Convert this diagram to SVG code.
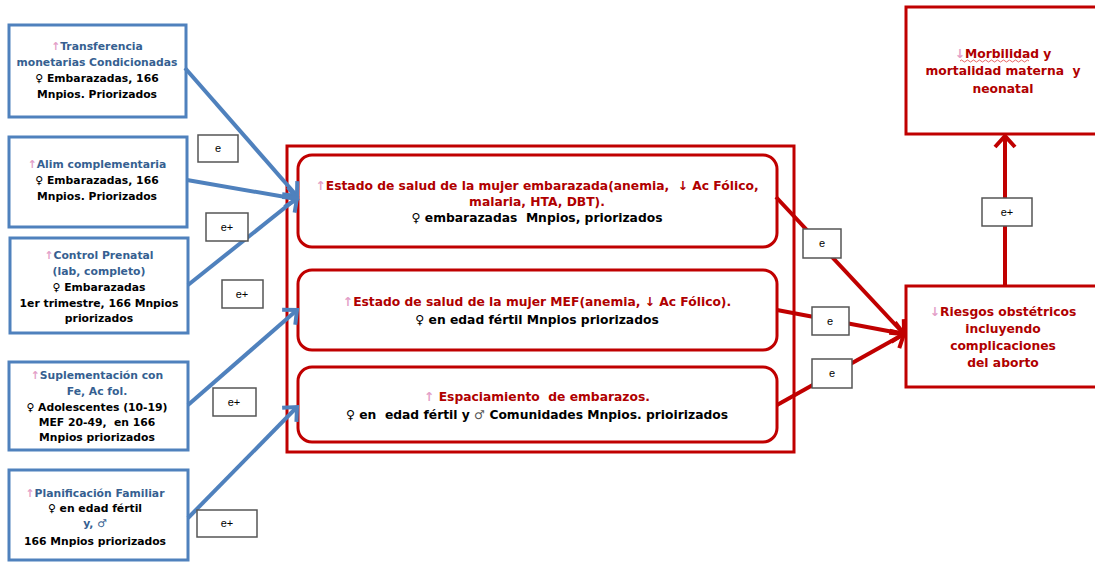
<svg xmlns="http://www.w3.org/2000/svg" width="1095" height="563" viewBox="0 0 1095 563">
<style>
.bbox{fill:#fff;stroke:#4F81BD;stroke-width:3}
.rbox{fill:#fff;stroke:#C00000;stroke-width:3}
.t{font-family:"DejaVu Sans",sans-serif;font-weight:bold;font-size:10.8px;text-anchor:middle;white-space:pre}
.tm{font-size:12.3px}
.blue{fill:#365F91}
.blk{fill:#000}
.red{fill:#B00000}
.pk{fill:#E3A0C8}
.lbl{fill:#fff;stroke:#555;stroke-width:1.5}
.lt{font-family:"Liberation Sans",sans-serif;font-size:11px;text-anchor:middle;fill:#000}
.ba{stroke:#4F81BD;stroke-width:4;fill:none;marker-end:url(#ab)}
.ra{stroke:#C00000;stroke-width:4;fill:none;marker-end:url(#ar)}
</style>
<defs>
<marker id="ab" markerUnits="userSpaceOnUse" markerWidth="26" markerHeight="26" refX="13" refY="13" orient="auto" viewBox="0 0 26 26">
<path d="M2,3 L13,13 L2,23" fill="none" stroke="#4F81BD" stroke-width="4"/>
</marker>
<marker id="ar" markerUnits="userSpaceOnUse" markerWidth="26" markerHeight="26" refX="13" refY="13" orient="auto" viewBox="0 0 26 26">
<path d="M2,3 L13,13 L2,23" fill="none" stroke="#C00000" stroke-width="4"/>
</marker>
</defs>
<rect width="1095" height="563" fill="#fff"/>

<g id="n1"><rect class="bbox" x="9" y="25" width="177" height="92"/>
<text class="t" x="97" y="50"><tspan class="pk">↑</tspan><tspan class="blue">Transferencia</tspan></text>
<text class="t blue" x="97" y="66">monetarias Condicionadas</text>
<text class="t blk" x="97" y="82">♀ Embarazadas, 166</text>
<text class="t blk" x="97" y="98">Mnpios. Priorizados</text></g>

<g id="n2"><rect class="bbox" x="9" y="137" width="178" height="90"/>
<text class="t" x="97" y="168"><tspan class="pk">↑</tspan><tspan class="blue">Alim complementaria</tspan></text>
<text class="t blk" x="97" y="184">♀ Embarazadas, 166</text>
<text class="t blk" x="97" y="200">Mnpios. Priorizados</text></g>

<g id="n3"><rect class="bbox" x="10" y="238" width="178" height="95"/>
<text class="t" x="99" y="259"><tspan class="pk">↑</tspan><tspan class="blue">Control Prenatal</tspan></text>
<text class="t blue" x="99" y="275">(lab, completo)</text>
<text class="t blk" x="99" y="291">♀ Embarazadas</text>
<text class="t blk" x="99" y="307">1er trimestre, 166 Mnpios</text>
<text class="t blk" x="99" y="322">priorizados</text></g>

<g id="n4"><rect class="bbox" x="9" y="362" width="179" height="88"/>
<text class="t" x="97" y="379"><tspan class="pk">↑</tspan><tspan class="blue">Suplementación con</tspan></text>
<text class="t blue" x="97" y="395">Fe, Ac fol.</text>
<text class="t blk" x="97" y="411">♀ Adolescentes (10-19)</text>
<text class="t blk" x="97" y="426">MEF 20-49,  en 166</text>
<text class="t blk" x="97" y="441">Mnpios priorizados</text></g>

<g id="n5"><rect class="bbox" x="9" y="470" width="179" height="90"/>
<text class="t" x="95" y="497"><tspan class="pk">↑</tspan><tspan class="blue">Planificación Familiar</tspan></text>
<text class="t blk" x="95" y="512">♀ en edad fértil</text>
<text class="t blue" x="95" y="527">y, ♂</text>
<text class="t blk" x="95" y="545">166 Mnpios priorizados</text></g>

<g id="container"><rect x="287" y="146" width="507" height="306" fill="none" stroke="#C00000" stroke-width="3"/></g>

<g id="m1"><rect class="rbox" x="298" y="155" width="479" height="92" rx="14"/>
<text class="t tm" x="537" y="190"><tspan class="pk">↑</tspan><tspan class="red">Estado de salud de la mujer embarazada(anemia,  ↓ Ac Fólico,</tspan></text>
<text class="t tm red" x="537" y="206">malaria, HTA, DBT).</text>
<text class="t tm blk" x="537" y="222">♀ embarazadas  Mnpios, priorizados</text></g>

<g id="m2"><rect class="rbox" x="298" y="270" width="479" height="80" rx="14"/>
<text class="t tm" x="537" y="306"><tspan class="pk">↑</tspan><tspan class="red">Estado de salud de la mujer MEF(anemia, ↓ Ac Fólico).</tspan></text>
<text class="t tm blk" x="537" y="324">♀ en edad fértil Mnpios priorizados</text></g>

<g id="m3"><rect class="rbox" x="298" y="367" width="479" height="75" rx="14"/>
<text class="t tm" x="537" y="401"><tspan class="pk">↑</tspan><tspan class="red"> Espaciamiento  de embarazos.</tspan></text>
<text class="t tm blk" x="537" y="419">♀ en  edad fértil y <tspan fill="#555">♂</tspan> Comunidades Mnpios. prioirizados</text></g>

<g id="r1"><rect class="rbox" x="906" y="7" width="192" height="127"/>
<text class="t tm" x="1003" y="58"><tspan class="pk">↓</tspan><tspan class="red">Morbilidad y</tspan></text>
<path d="M960,61 q1.5,-2 3,0 t3,0 t3,0 t3,0 t3,0 t3,0 t3,0 t3,0 t3,0 t3,0 t3,0 t3,0 t3,0 t3,0 t3,0 t3,0 t3,0 t3,0 t3,0 t3,0 t3,0 t3,0 t3,0" fill="none" stroke="#E04040" stroke-width="0.8"/>
<text class="t tm red" x="1003" y="75">mortalidad materna  y</text>
<text class="t tm red" x="1003" y="93">neonatal</text></g>

<g id="r2"><rect class="rbox" x="906" y="286" width="192" height="101"/>
<text class="t tm" x="1003" y="316"><tspan class="pk">↓</tspan><tspan class="red">Riesgos obstétricos</tspan></text>
<text class="t tm red" x="1003" y="333">incluyendo</text>
<text class="t tm red" x="1003" y="350">complicaciones</text>
<text class="t tm red" x="1003" y="367">del aborto</text></g>

<g id="connectors">
<line class="ba" x1="185" y1="68" x2="297" y2="196"/>
<line class="ba" x1="187" y1="180" x2="297" y2="199"/>
<line class="ba" x1="188" y1="285" x2="297" y2="198"/>
<line class="ba" x1="188" y1="405" x2="297" y2="310"/>
<line class="ba" x1="188" y1="518" x2="297" y2="407"/>
<line class="ra" x1="776" y1="197" x2="904" y2="334"/>
<line class="ra" x1="777" y1="310" x2="904" y2="334"/>
<line class="ra" x1="777" y1="405" x2="904" y2="334"/>
<line class="ra" x1="1005" y1="286" x2="1005" y2="136"/>
<rect class="lbl" x="198" y="135" width="40" height="27"/><text class="lt" x="218" y="152">e</text>
<rect class="lbl" x="206" y="213" width="42" height="28"/><text class="lt" x="227" y="231">e+</text>
<rect class="lbl" x="222" y="280" width="41" height="28"/><text class="lt" x="242" y="298">e+</text>
<rect class="lbl" x="213" y="388" width="43" height="28"/><text class="lt" x="234" y="406">e+</text>
<rect class="lbl" x="197" y="510" width="60" height="27"/><text class="lt" x="227" y="527">e+</text>
<rect class="lbl" x="803" y="229" width="38" height="29"/><text class="lt" x="822" y="247">e</text>
<rect class="lbl" x="812" y="307" width="37" height="28"/><text class="lt" x="830" y="325">e</text>
<rect class="lbl" x="812" y="359" width="40" height="29"/><text class="lt" x="832" y="377">e</text>
<rect class="lbl" x="982" y="198" width="50" height="28"/><text class="lt" x="1007" y="216">e+</text>
</g>
</svg>
